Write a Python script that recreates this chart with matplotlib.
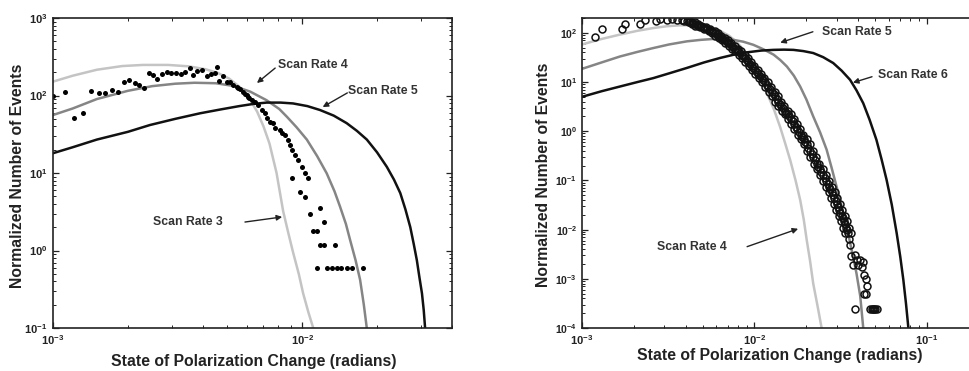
import numpy as np
import matplotlib
matplotlib.use("Agg")
import matplotlib.pyplot as plt
from matplotlib.ticker import FuncFormatter, NullFormatter, LogLocator, FixedLocator

plt.rcParams['font.family'] = ['Liberation Sans', 'DejaVu Sans']
plt.rcParams['font.weight'] = 'bold'
plt.rcParams['mathtext.fontset'] = 'custom'
plt.rcParams['mathtext.bf'] = 'Liberation Sans:bold'
plt.rcParams['mathtext.rm'] = 'Liberation Sans:bold'

# ---- left panel: fitted curves
l_rate3_x = [1.0e-3, 1.2e-3, 1.5e-3, 1.9e-3, 2.3e-3, 2.9e-3, 3.5e-3, 4.1e-3, 4.6e-3, 5.1e-3, 5.6e-3,
             6.1e-3, 6.6e-3, 7.0e-3, 7.4e-3, 7.9e-3, 8.4e-3, 8.8e-3, 9.2e-3, 9.7e-3, 1.01e-2, 1.06e-2, 1.11e-2]
l_rate3_y = [151, 180, 215, 240, 248, 248, 238, 218, 195, 165, 130,
             95, 62, 40, 24, 10, 3.2, 1.7, 0.95, 0.50, 0.28, 0.16, 0.099]
l_rate4_x = [1.0e-3, 1.2e-3, 1.5e-3, 2.0e-3, 2.5e-3, 3.1e-3, 3.7e-3, 4.5e-3, 5.3e-3, 6.2e-3, 7.2e-3, 8.1e-3,
             8.7e-3, 9.5e-3, 1.045e-2, 1.15e-2, 1.256e-2, 1.35e-2, 1.42e-2, 1.50e-2, 1.56e-2, 1.64e-2,
             1.71e-2, 1.77e-2, 1.82e-2]
l_rate4_y = [56, 68, 90, 115, 132, 142, 146, 144, 133, 112, 87, 67,
             53, 39, 27, 16.5, 9.9, 5.8, 3.7, 2.2, 1.36, 0.75,
             0.42, 0.2, 0.099]
l_rate5_x = [1.0e-3, 1.2e-3, 1.5e-3, 2.0e-3, 2.45e-3, 3.1e-3, 3.9e-3, 4.7e-3, 5.6e-3, 6.4e-3, 7.2e-3, 8.2e-3,
             9.2e-3, 1.05e-2, 1.18e-2, 1.34e-2, 1.51e-2, 1.66e-2, 1.82e-2, 2.0e-2, 2.19e-2, 2.34e-2,
             2.48e-2, 2.60e-2, 2.72e-2, 2.81e-2, 2.89e-2, 2.96e-2, 3.03e-2, 3.08e-2, 3.12e-2]
l_rate5_y = [18, 21.5, 27, 34, 41.6, 50, 59, 66, 73, 78, 81, 81,
             79, 73, 65, 55, 44, 35, 27, 18.5, 12, 8.2,
             5.5, 3.4, 2.0, 1.2, 0.75, 0.45, 0.28, 0.17, 0.099]

# left panel: measured events (filled dots)
l_dots_x = [1.00e-3, 1.117e-3, 1.214e-3, 1.315e-3, 1.416e-3, 1.527e-3, 1.623e-3, 1.725e-3, 1.824e-3, 1.928e-3,
            2.024e-3, 2.128e-3, 2.22e-3, 2.33e-3, 2.42e-3, 2.53e-3, 2.62e-3, 2.74e-3, 2.86e-3, 2.99e-3,
            3.12e-3, 3.26e-3, 3.40e-3, 3.55e-3, 3.66e-3, 3.80e-3, 3.97e-3, 4.14e-3, 4.30e-3, 4.46e-3,
            4.54e-3, 4.62e-3, 4.80e-3, 4.99e-3, 5.14e-3, 5.30e-3, 5.47e-3, 5.55e-3, 5.64e-3, 5.78e-3,
            5.90e-3, 6.00e-3, 6.08e-3, 6.14e-3, 6.28e-3, 6.47e-3, 6.67e-3, 6.89e-3, 7.10e-3, 7.21e-3,
            7.44e-3, 7.67e-3, 7.79e-3, 8.16e-3, 8.29e-3, 8.55e-3, 8.81e-3, 8.95e-3, 9.09e-3, 9.38e-3,
            9.67e-3, 9.98e-3, 1.03e-2, 1.06e-2, 9.09e-3, 9.82e-3, 1.03e-2, 1.08e-2, 1.18e-2, 1.22e-2,
            1.11e-2, 1.15e-2, 1.18e-2, 1.22e-2, 1.36e-2, 1.15e-2, 1.26e-2, 1.32e-2, 1.38e-2, 1.44e-2,
            1.51e-2, 1.58e-2, 1.76e-2]
l_dots_y = [98.6, 111, 50.8, 60, 114, 109, 107, 118, 111, 148,
            158, 144, 137, 124, 193, 184, 162, 189, 201, 197,
            193, 189, 201, 224, 184, 209, 213, 179, 189, 193,
            231, 155, 179, 149, 149, 136, 130, 124, 120, 112,
            106, 101, 96, 92, 88, 83, 75, 65, 59, 51,
            46, 44, 38, 36, 32.5, 31, 26.7, 23, 19.8, 17.1,
            14.7, 12.1, 9.9, 8.5, 8.5, 5.7, 4.9, 2.95, 3.54, 2.36,
            1.77, 1.77, 1.18, 1.18, 1.18, 0.59, 0.59, 0.59, 0.59, 0.59,
            0.59, 0.59, 0.59]

# ---- right panel: fitted curves
r_rate4_x = [1.0e-3, 1.3e-3, 1.66e-3, 2.1e-3, 2.59e-3, 3.1e-3, 3.7e-3, 4.2e-3, 4.83e-3, 5.5e-3, 6.31e-3,
             7.1e-3, 7.88e-3, 8.8e-3, 9.85e-3, 1.09e-2, 1.18e-2, 1.30e-2, 1.41e-2, 1.51e-2, 1.61e-2,
             1.73e-2, 1.84e-2, 1.93e-2, 2.01e-2, 2.10e-2, 2.19e-2, 2.32e-2, 2.45e-2]
r_rate4_y = [58, 75, 92, 110, 125, 136, 142, 142, 138, 126, 110,
             88, 65, 42, 22, 11.5, 6.0, 2.7, 1.2, 0.55, 0.26,
             0.1, 0.04, 0.016, 6.0e-3, 2.3e-3, 8.0e-4, 2.8e-4, 1.0e-4]
r_rate5_x = [1.0e-3, 1.3e-3, 1.66e-3, 2.1e-3, 2.59e-3, 3.2e-3, 4.05e-3, 4.9e-3, 5.77e-3, 6.6e-3, 7.53e-3,
             8.6e-3, 9.85e-3, 1.13e-2, 1.29e-2, 1.41e-2, 1.54e-2, 1.69e-2, 1.84e-2, 2.0e-2, 2.19e-2,
             2.4e-2, 2.62e-2, 2.8e-2, 2.99e-2, 3.2e-2, 3.42e-2, 3.65e-2, 3.9e-2, 4.1e-2, 4.27e-2]
r_rate5_y = [18.5, 25, 33, 41, 49, 58, 67, 72, 75, 75, 72,
             66, 57, 46, 36, 28, 20.7, 13.5, 8.1, 4.4, 2.0,
             0.95, 0.42, 0.18, 0.075, 0.03, 0.0116, 4.0e-3, 1.3e-3, 4.5e-4, 1.0e-4]
r_rate6_x = [1.0e-3, 1.3e-3, 1.66e-3, 2.1e-3, 2.59e-3, 3.2e-3, 4.05e-3, 5.1e-3, 6.31e-3, 7.6e-3, 9.0e-3,
             1.09e-2, 1.29e-2, 1.48e-2, 1.68e-2, 1.92e-2, 2.19e-2, 2.5e-2, 2.86e-2, 3.2e-2, 3.58e-2,
             3.9e-2, 4.27e-2, 4.65e-2, 5.09e-2, 5.45e-2, 5.83e-2, 6.25e-2, 6.67e-2, 7.0e-2, 7.29e-2,
             7.55e-2, 7.80e-2]
r_rate6_y = [5.0, 6.5, 8.1, 10, 12, 15, 19.3, 25, 30.8, 36, 40,
             43.5, 45, 45.5, 45, 42.5, 38.8, 32, 24.3, 17, 11.1,
             6.8, 3.7, 1.7, 0.67, 0.27, 0.103, 0.032, 8.5e-3, 2.8e-3, 9.6e-4,
             3.2e-4, 1.0e-4]

# right panel: measured events (open circles)
r_early_x = [1.19e-3, 1.30e-3, 1.70e-3, 1.78e-3, 2.17e-3, 2.32e-3, 2.69e-3, 2.83e-3, 3.12e-3, 3.31e-3, 3.54e-3, 3.78e-3]
r_early_y = [82, 121, 121, 153, 153, 179, 171, 191, 185, 191, 179, 179]

r_band_y = [171, 163, 153, 139, 131, 119, 107, 99, 87, 78, 70, 62, 55, 47, 42, 36, 31, 26, 21, 17.8,
            14.7, 12, 9.8, 7.9, 6.4, 5.1, 4.0, 3.2, 2.6, 2.2, 1.8, 1.4, 1.1, 0.85, 0.68, 0.54, 0.40, 0.30,
            0.22, 0.17, 0.13, 0.098, 0.075, 0.058, 0.044, 0.033, 0.025, 0.019, 0.015, 0.011, 0.0085]
r_band_mid_x = [4.05e-3, 4.33e-3, 4.52e-3, 4.72e-3, 5.05e-3, 5.28e-3, 5.65e-3, 5.90e-3, 6.17e-3, 6.45e-3,
                6.75e-3, 7.06e-3, 7.38e-3, 7.71e-3, 8.06e-3, 8.43e-3, 8.81e-3, 9.21e-3, 9.63e-3, 1.01e-2,
                1.05e-2, 1.10e-2, 1.15e-2, 1.20e-2, 1.26e-2, 1.32e-2, 1.37e-2, 1.43e-2, 1.50e-2, 1.56e-2,
                1.63e-2, 1.70e-2, 1.77e-2, 1.85e-2, 1.93e-2, 2.01e-2, 2.10e-2, 2.19e-2, 2.29e-2, 2.39e-2,
                2.50e-2, 2.60e-2, 2.70e-2, 2.80e-2, 2.90e-2, 3.00e-2, 3.10e-2, 3.20e-2, 3.30e-2, 3.40e-2, 3.50e-2]
r_band_lo_x = [3.89e-3, 4.16e-3, 4.34e-3, 4.53e-3, 4.85e-3, 5.07e-3, 5.42e-3, 5.66e-3, 5.92e-3, 6.19e-3,
               6.48e-3, 6.78e-3, 7.08e-3, 7.40e-3, 7.74e-3, 8.09e-3, 8.46e-3, 8.84e-3, 9.24e-3, 9.70e-3,
               1.01e-2, 1.06e-2, 1.10e-2, 1.15e-2, 1.21e-2, 1.27e-2, 1.32e-2, 1.37e-2, 1.44e-2, 1.50e-2,
               1.56e-2, 1.63e-2, 1.70e-2, 1.78e-2, 1.85e-2, 1.93e-2, 2.02e-2, 2.10e-2, 2.20e-2, 2.29e-2,
               2.40e-2, 2.50e-2, 2.59e-2, 2.69e-2, 2.78e-2, 2.88e-2, 2.98e-2, 3.07e-2, 3.17e-2, 3.26e-2, 3.36e-2]
r_band_hi_x = [4.21e-3, 4.50e-3, 4.70e-3, 4.91e-3, 5.25e-3, 5.49e-3, 5.88e-3, 6.14e-3, 6.42e-3, 6.71e-3,
               7.02e-3, 7.34e-3, 7.68e-3, 8.02e-3, 8.38e-3, 8.77e-3, 9.16e-3, 9.58e-3, 1.00e-2, 1.05e-2,
               1.09e-2, 1.14e-2, 1.20e-2, 1.25e-2, 1.31e-2, 1.37e-2, 1.42e-2, 1.49e-2, 1.56e-2, 1.62e-2,
               1.70e-2, 1.77e-2, 1.84e-2, 1.92e-2, 2.01e-2, 2.09e-2, 2.18e-2, 2.28e-2, 2.38e-2, 2.49e-2,
               2.60e-2, 2.70e-2, 2.81e-2, 2.91e-2, 3.02e-2, 3.12e-2, 3.22e-2, 3.33e-2, 3.43e-2, 3.54e-2, 3.64e-2]
# second, staggered row of circles inside the dense band
r_band2_x = [4.19e-3, 4.42e-3, 4.62e-3, 4.88e-3, 5.16e-3, 5.46e-3, 5.77e-3, 6.03e-3, 6.31e-3, 6.60e-3,
             6.90e-3, 7.22e-3, 7.54e-3, 7.88e-3, 8.24e-3, 8.62e-3, 9.01e-3, 9.42e-3, 9.86e-3, 1.03e-2,
             1.075e-2, 1.125e-2, 1.175e-2, 1.23e-2, 1.29e-2, 1.345e-2, 1.40e-2, 1.465e-2, 1.53e-2, 1.595e-2,
             1.665e-2, 1.735e-2, 1.81e-2, 1.89e-2, 1.97e-2, 2.055e-2, 2.145e-2, 2.24e-2, 2.34e-2, 2.445e-2,
             2.55e-2, 2.65e-2, 2.75e-2, 2.85e-2, 2.95e-2, 3.05e-2, 3.15e-2, 3.25e-2, 3.35e-2, 3.45e-2]
r_band2_y = [167, 158, 146, 135, 125, 113, 103, 93, 82, 74,
             66, 58, 51, 44, 39, 33, 28, 23, 19.3, 16.2,
             13.3, 10.8, 8.8, 7.1, 5.7, 4.5, 3.6, 2.9, 2.4, 2.0,
             1.6, 1.24, 0.97, 0.76, 0.61, 0.46, 0.35, 0.26, 0.19, 0.15,
             0.113, 0.086, 0.066, 0.051, 0.038, 0.029, 0.022, 0.017, 0.013, 0.0097]

r_tail_x = [3.55e-2, 3.60e-2, 3.62e-2, 3.70e-2, 3.85e-2, 3.95e-2, 4.00e-2, 4.10e-2, 4.20e-2, 4.25e-2, 4.30e-2,
            4.45e-2, 4.50e-2, 4.30e-2, 4.45e-2, 3.85e-2, 4.70e-2, 4.78e-2, 4.86e-2, 4.94e-2, 5.02e-2, 5.10e-2]
r_tail_y = [6.5e-3, 4.8e-3, 2.9e-3, 1.9e-3, 3.1e-3, 2.4e-3, 1.9e-3, 2.4e-3, 1.7e-3, 2.2e-3, 1.2e-3,
            1.0e-3, 7.2e-4, 4.8e-4, 4.8e-4, 2.4e-4, 2.4e-4, 2.4e-4, 2.4e-4, 2.4e-4, 2.4e-4, 2.4e-4]

# labelled decades on the right panel's x axis (the panel runs past the image edge)
r_xticks = [1e-3, 1e-2, 1e-1]

# colours of the three scan rate curves
c_light = '#c4c4c4'
c_mid = '#858585'
c_dark = '#111111'

fig = plt.figure(figsize=(9.7, 3.71), dpi=100)
ax1 = fig.add_axes([53 / 970, 43 / 371, 399 / 970, 310 / 371])
ax2 = fig.add_axes([582 / 970, 43 / 371, 517.5 / 970, 310 / 371])


def pow_label(v, pos):
    return r'$\mathbf{10^{%d}}$' % int(round(np.log10(v)))


def style_axis(ax):
    ax.set_xscale('log')
    ax.set_yscale('log')
    for s in ax.spines.values():
        s.set_linewidth(1.2)
        s.set_color('#222222')
    ax.tick_params(which='both', direction='in', top=True, right=True, labelsize=8, colors='#222222')
    ax.tick_params(which='major', length=4.5, width=0.9, pad=4)
    ax.tick_params(which='minor', length=2.5, width=0.7)
    ax.xaxis.set_major_locator(LogLocator(base=10))
    ax.yaxis.set_major_locator(LogLocator(base=10))
    ax.xaxis.set_minor_locator(LogLocator(base=10, subs=np.arange(2, 10)))
    ax.yaxis.set_minor_locator(LogLocator(base=10, subs=np.arange(2, 10), numticks=20))
    ax.xaxis.set_major_formatter(FuncFormatter(pow_label))
    ax.yaxis.set_major_formatter(FuncFormatter(pow_label))
    ax.xaxis.set_minor_formatter(NullFormatter())
    ax.yaxis.set_minor_formatter(NullFormatter())
    ax.set_xlabel('State of Polarization Change (radians)', fontsize=11.3, fontweight='bold', color='#222222')
    ax.set_ylabel('Normalized Number of Events', fontsize=11.3, fontweight='bold', color='#222222')


def note(ax, text, tx, ty, tail, head):
    ax.text(tx, ty, text, fontsize=8.8, fontweight='bold', color='#333333', ha='left', va='center')
    ax.annotate('', xy=head, xytext=tail,
                arrowprops=dict(arrowstyle='-|>', color='#222222', lw=1.0, mutation_scale=8,
                                shrinkA=0, shrinkB=0))


# left panel
style_axis(ax1)
ax1.plot(l_rate3_x, l_rate3_y, color=c_light, lw=1.8)
ax1.plot(l_rate4_x, l_rate4_y, color=c_mid, lw=1.8)
ax1.plot(l_rate5_x, l_rate5_y, color=c_dark, lw=1.8)
ax1.plot(l_dots_x, l_dots_y, 'o', color='black', ms=3.6, mew=0)
ax1.set_xlim(1e-3, 4e-2)
ax1.set_ylim(1e-1, 1e3)
ax1.xaxis.set_label_coords(0.5025, -0.084)
ax1.yaxis.set_label_coords(-0.070, 0.49)
note(ax1, 'Scan Rate 4', 8.02e-3, 248, (7.80e-3, 226), (6.59e-3, 145))
note(ax1, 'Scan Rate 5', 1.53e-2, 114, (1.52e-2, 108), (1.21e-2, 71))
note(ax1, 'Scan Rate 3', 2.52e-3, 2.33, (5.90e-3, 2.33), (8.32e-3, 2.71))

# right panel
style_axis(ax2)
ax2.tick_params(axis='y', which='major', labelsize=7.5, pad=3.5)
ax2.plot(r_rate4_x, r_rate4_y, color=c_light, lw=1.8)
ax2.plot(r_rate5_x, r_rate5_y, color=c_mid, lw=1.8)
ax2.plot(r_rate6_x, r_rate6_y, color=c_dark, lw=1.8)
circ = dict(marker='o', ls='none', mfc='none', mec='#111111', ms=5, mew=1.1)
ax2.plot(r_early_x, r_early_y, **circ)
ax2.plot(r_band_lo_x, r_band_y, **circ)
ax2.plot(r_band_mid_x, r_band_y, **circ)
ax2.plot(r_band_hi_x, r_band_y, **circ)
ax2.plot(r_band2_x, r_band2_y, **circ)
ax2.plot(r_tail_x, r_tail_y, **circ)
ax2.set_xlim(1e-3, 1e0)
ax2.set_ylim(1e-4, 200)
ax2.xaxis.set_major_locator(FixedLocator(r_xticks))
ax2.xaxis.set_minor_locator(LogLocator(base=10, subs=np.arange(2, 10)))
ax2.xaxis.set_label_coords(0.383, -0.064)
ax2.yaxis.set_label_coords(-0.060, 0.495)
note(ax2, 'Scan Rate 5', 2.46e-2, 105, (2.18e-2, 105), (1.41e-2, 63))
note(ax2, 'Scan Rate 6', 5.20e-2, 14.1, (4.80e-2, 12.8), (3.72e-2, 9.7))
note(ax2, 'Scan Rate 4', 2.72e-3, 4.5e-3, (9.06e-3, 4.5e-3), (1.79e-2, 0.0104))

fig.savefig('out.png', dpi=100)
